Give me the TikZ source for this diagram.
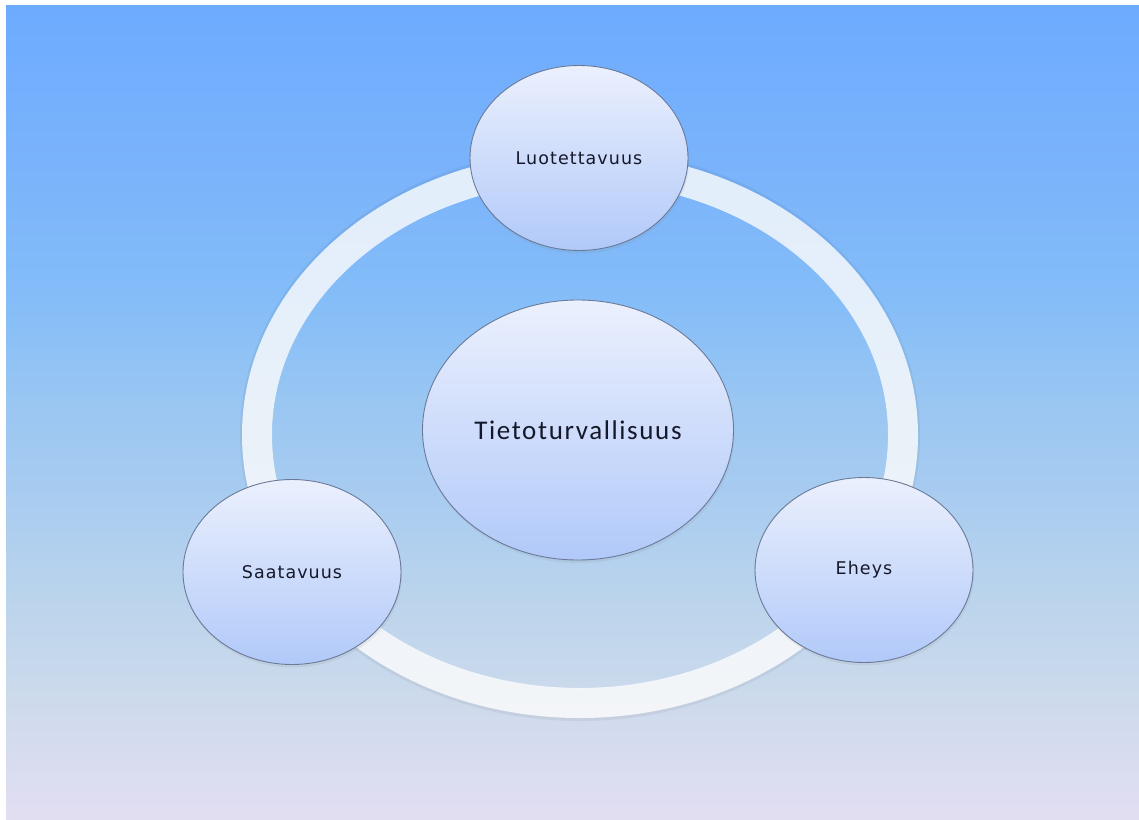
\documentclass[tikz,border=0pt]{standalone}
\usepackage{fontspec}
\newfontfamily\partfont[LetterSpace=6]{DejaVu Sans}
\newfontfamily\corefont[LetterSpace=6]{Carlito}
\usetikzlibrary{shapes.geometric,shadows}

\definecolor{bgA}{HTML}{E2DEF2}
\definecolor{bgB}{HTML}{CDDAEC}
\definecolor{bgC}{HTML}{BBD4EC}
\definecolor{bgD}{HTML}{A9CCF0}
\definecolor{bgE}{HTML}{99C6F2}
\definecolor{bgF}{HTML}{84BDF8}
\definecolor{bgG}{HTML}{7DB5FA}
\definecolor{bgH}{HTML}{6DABFF}
\definecolor{circtop}{HTML}{EBF0FD}
\definecolor{circbottom}{HTML}{B1C9F9}
\definecolor{circborder}{HTML}{6A7A98}
\definecolor{textdark}{HTML}{15182A}

% the path covers 25bp..75bp of the shading
\pgfdeclareverticalshading{skyshade}{100bp}{
    color(0bp)=(bgA); color(25bp)=(bgA); color(32.3bp)=(bgB);
    color(38.45bp)=(bgC); color(44.6bp)=(bgD); color(50.75bp)=(bgE);
    color(56.9bp)=(bgF); color(63bp)=(bgG); color(75bp)=(bgH);
    color(100bp)=(bgH)}

\begin{document}
\begin{tikzpicture}[
    x=1pt, y=-1pt,
    part/.style={
        ellipse,
        draw=circborder,
        line width=0.9pt,
        top color=circtop,
        bottom color=circbottom,
        minimum width=218pt,
        minimum height=185pt,
        inner sep=0pt,
        text=textdark,
        drop shadow={opacity=0.12, shadow xshift=1pt, shadow yshift=-3pt},
        font=\partfont\fontsize{17.5}{20}\selectfont
    },
    core/.style={
        part,
        minimum width=311pt,
        minimum height=260pt,
        font=\corefont\fontsize{27}{30}\selectfont
    },
    ring/.style={
        line width=30pt,
        white,
        opacity=0.8
    }
]
\useasboundingbox (0,0) rectangle (1139,819);

% Background
\fill[white] (0,0) rectangle (1139,819);
\shade[shading=skyshade] (6,5) rectangle (1139,819);

% Ring
\coordinate (hub) at (580,435);
\draw[line width=32pt, black, opacity=0.05] (hub) ellipse [x radius=324, y radius=270];
\draw[ring] (hub) ellipse [x radius=323, y radius=268];

% Centre
\node[core] (security) at (578,430) {Tietoturvallisuus};

% Three parts on the ring
\node[part] (confidentiality) at (579,158) {Luotettavuus};
\node[part] (integrity) at (864,570) {Eheys};
\node[part] (availability) at (292,572) {Saatavuus};

\end{tikzpicture}
\end{document}
